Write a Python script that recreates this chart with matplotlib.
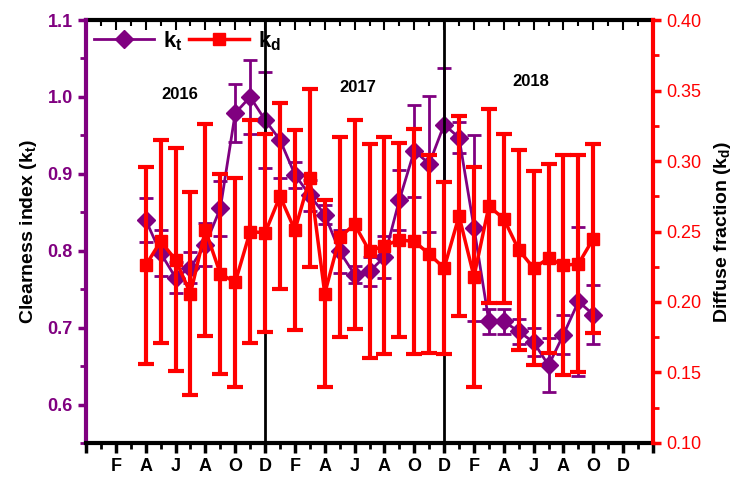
import numpy as np
import matplotlib
matplotlib.use('Agg')
import matplotlib.pyplot as plt
from matplotlib.ticker import MultipleLocator, FixedLocator, FixedFormatter

plt.rcParams['font.family'] = 'Liberation Sans'
plt.rcParams['mathtext.fontset'] = 'custom'
plt.rcParams['mathtext.rm'] = 'Liberation Sans:bold'
plt.rcParams['mathtext.it'] = 'Liberation Sans:bold'
plt.rcParams['mathtext.bf'] = 'Liberation Sans:bold'

# months counted from Dec 2015 (=0); data runs Apr 2016 .. Oct 2018
months = list(range(4, 35))

kt = [0.840, 0.797, 0.765, 0.778, 0.808, 0.855, 0.979, 1.000, 0.970,
      0.944, 0.899, 0.872, 0.847, 0.799, 0.769, 0.773, 0.792, 0.866, 0.930, 0.913, 0.964,
      0.947, 0.830, 0.708, 0.708, 0.695, 0.681, 0.651, 0.691, 0.734, 0.717]
kt_err = [0.029, 0.030, 0.020, 0.020, 0.028, 0.036, 0.038, 0.048, 0.062,
          0.049, 0.017, 0.020, 0.012, 0.028, 0.011, 0.019, 0.027, 0.039, 0.060, 0.088, 0.073,
          0.020, 0.121, 0.016, 0.016, 0.016, 0.018, 0.035, 0.025, 0.097, 0.038]

kd = [0.226, 0.243, 0.230, 0.206, 0.251, 0.220, 0.214, 0.250, 0.249,
      0.275, 0.251, 0.288, 0.206, 0.246, 0.255, 0.236, 0.240, 0.244, 0.243, 0.234, 0.224,
      0.261, 0.218, 0.268, 0.259, 0.237, 0.224, 0.231, 0.226, 0.227, 0.245]
kd_err = [0.070, 0.072, 0.079, 0.072, 0.075, 0.071, 0.074, 0.079, 0.070,
          0.066, 0.071, 0.063, 0.066, 0.071, 0.074, 0.076, 0.077, 0.069, 0.080, 0.070, 0.061,
          0.071, 0.078, 0.069, 0.060, 0.071, 0.069, 0.067, 0.078, 0.077, 0.067]

tick_months = list(range(0, 39, 2))
tick_labels = [''] + ['F', 'A', 'J', 'A', 'O', 'D'] * 3 + ['']
year_breaks = [12, 24]
years = ['2016', '2017', '2018']
year_pos = [(6.3, 1.003), (18.2, 1.012), (29.8, 1.020)]

PURPLE = '#800080'
RED = '#ff0000'

fig = plt.figure(figsize=(7.5, 4.8), dpi=100)
ax = fig.add_axes([0.1147, 0.0771, 0.7560, 0.8812])
ax2 = ax.twinx()

eb1 = ax.errorbar(months, kt, yerr=kt_err, color=PURPLE, marker='D', ms=9, lw=2,
                  elinewidth=2, capsize=5, capthick=2)
eb2 = ax2.errorbar(months, kd, yerr=kd_err, color=RED, marker='s', ms=8, lw=2.5,
                   elinewidth=3, capsize=5.5, capthick=3)

for m in year_breaks:
    ax.axvline(m, color='black', lw=2, zorder=5)

for (x, y), yr in zip(year_pos, years):
    ax.text(x, y, yr, ha='center', va='center', fontsize=12, fontweight='bold')

ax.set_xlim(0, 38)
ax.set_ylim(0.55, 1.1)
ax2.set_ylim(0.10, 0.40)

ax.xaxis.set_major_locator(FixedLocator(tick_months))
ax.xaxis.set_major_formatter(FixedFormatter(tick_labels))
ax.xaxis.set_minor_locator(MultipleLocator(1))
ax.tick_params(axis='x', which='major', direction='out', length=7, width=2.5,
               labelsize=13, pad=4)
ax.tick_params(axis='x', which='minor', direction='out', length=4, width=2)
for lb in ax.get_xticklabels():
    lb.set_fontweight('bold')

top = ax.secondary_xaxis('top')
top.xaxis.set_major_locator(FixedLocator(tick_months))
top.xaxis.set_minor_locator(MultipleLocator(1))
top.tick_params(which='major', direction='in', length=7, width=1.5, labeltop=False)
top.tick_params(which='minor', direction='in', length=4, width=1.5)
top.spines['top'].set_linewidth(3)

ax.set_yticks([0.6, 0.7, 0.8, 0.9, 1.0, 1.1])
ax.yaxis.set_minor_locator(MultipleLocator(0.05))
ax.tick_params(axis='y', which='major', colors=PURPLE, direction='out', length=6,
               width=2.5, labelsize=13)
ax.tick_params(axis='y', which='minor', colors=PURPLE, direction='out', length=4, width=2)
for lb in ax.get_yticklabels():
    lb.set_fontweight('bold')

ax2.yaxis.set_major_locator(MultipleLocator(0.05))
ax2.yaxis.set_minor_locator(MultipleLocator(0.025))
ax2.yaxis.set_major_formatter(plt.FormatStrFormatter('%.2f'))
ax2.tick_params(axis='y', which='major', colors=RED, direction='out', length=6,
                width=2.5, labelsize=13)
ax2.tick_params(axis='y', which='minor', colors=RED, direction='out', length=4, width=2)

ax.spines['left'].set_color(PURPLE)
ax.spines['left'].set_linewidth(3)
ax.spines['bottom'].set_linewidth(3)
ax.spines['right'].set_visible(False)
ax.spines['top'].set_visible(False)
ax2.spines['right'].set_color(RED)
ax2.spines['right'].set_linewidth(3)
for s in ['left', 'top', 'bottom']:
    ax2.spines[s].set_visible(False)

ax.set_ylabel('Clearness index ($k_t$)', fontsize=14, fontweight='bold', labelpad=6)
ax2.set_ylabel('Diffuse fraction ($k_d$)', fontsize=14, fontweight='bold', labelpad=8)

# legend shows line + marker only, no error bars
ax2.legend([eb1[0], eb2[0]], ['$k_t$', '$k_d$'], loc='upper left', ncol=2,
           frameon=False, fontsize=16, handlelength=2.7, columnspacing=0.3,
           handletextpad=0.4, bbox_to_anchor=(-0.01, 1.01), borderaxespad=0.2)

plt.savefig('out.png', dpi=100)
